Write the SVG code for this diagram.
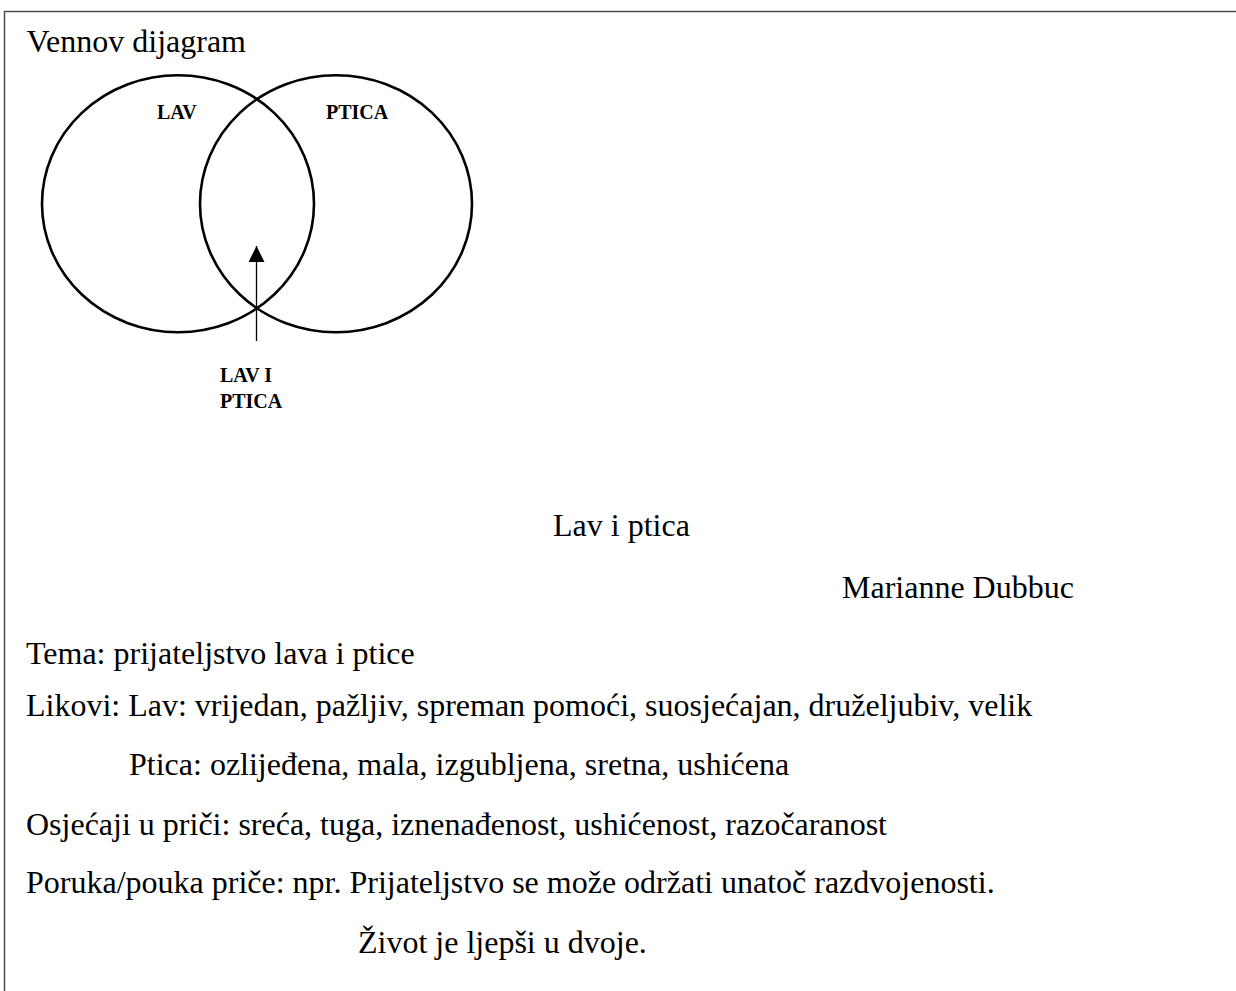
<svg xmlns="http://www.w3.org/2000/svg" width="1236" height="991" viewBox="0 0 1236 991">
<style>
.t{font-family:"Liberation Serif","Times New Roman",serif;font-size:32px;fill:#000}
.b{font-family:"Liberation Serif","Times New Roman",serif;font-size:20px;font-weight:bold;fill:#000}
.c{fill:none;stroke:#000;stroke-width:2.6}
</style>
<defs>
<marker id="ah" viewBox="0 0 16 16" refX="16" refY="8" markerWidth="16" markerHeight="16" markerUnits="userSpaceOnUse" orient="auto">
<path d="M0,0 L16,8 L0,16 Z" fill="#000"/>
</marker>
</defs>
<rect width="1236" height="991" fill="#fff"/>
<rect x="4.5" y="11.5" width="1240" height="1000" fill="none" stroke="#444" stroke-width="1.4"/>
<text class="t" x="26.5" y="52">Vennov dijagram</text>
<g id="venn-lav">
<ellipse class="c" cx="178" cy="203.7" rx="136" ry="128.5"/>
<text class="b" x="157" y="119">LAV</text>
</g>
<g id="venn-ptica">
<ellipse class="c" cx="336" cy="203.7" rx="136" ry="128.5"/>
<text class="b" x="326" y="119">PTICA</text>
</g>
<g id="label-presjek">
<text class="b" x="220" y="382">LAV I</text>
<text class="b" x="220" y="408">PTICA</text>
</g>
<g id="connectors">
<line x1="256.5" y1="341" x2="256.5" y2="246" stroke="#000" stroke-width="1.3" marker-end="url(#ah)"/>
</g>
<g id="tekst">
<text class="t" x="553" y="536">Lav i ptica</text>
<text class="t" x="842" y="598">Marianne Dubbuc</text>
<text class="t" x="26" y="664">Tema: prijateljstvo lava i ptice</text>
<text class="t" x="26" y="716">Likovi: Lav: vrijedan, pažljiv, spreman pomoći, suosjećajan, druželjubiv, velik</text>
<text class="t" x="129" y="775">Ptica: ozlijeđena, mala, izgubljena, sretna, ushićena</text>
<text class="t" x="26" y="835">Osjećaji u priči: sreća, tuga, iznenađenost, ushićenost, razočaranost</text>
<text class="t" x="26" y="893">Poruka/pouka priče: npr. Prijateljstvo se može održati unatoč razdvojenosti.</text>
<text class="t" x="358" y="953">Život je ljepši u dvoje.</text>
</g>
</svg>
